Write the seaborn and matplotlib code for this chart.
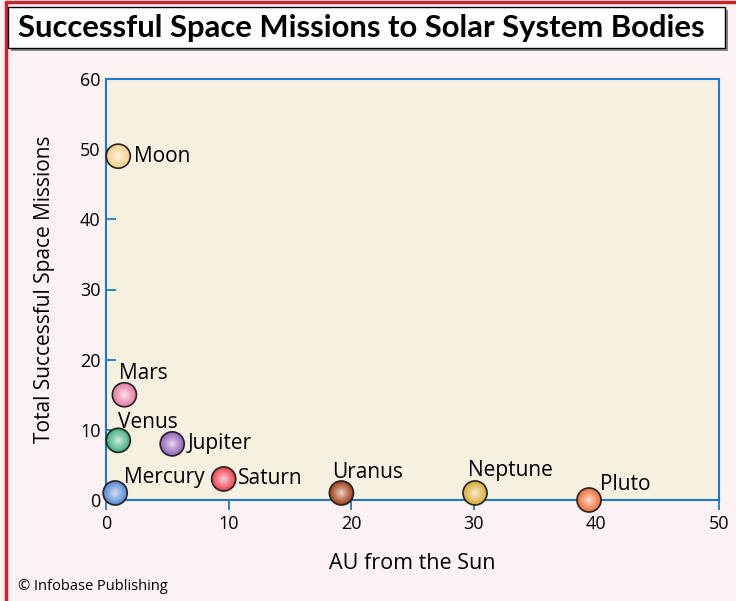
import matplotlib
matplotlib.use("Agg")
import matplotlib.pyplot as plt
from matplotlib.patches import Rectangle
from matplotlib.lines import Line2D
import matplotlib.colors as mcolors
import numpy as np
import pandas as pd
import seaborn as sns

# Solar system bodies: distance from the Sun (AU) and successful missions
bodies = ["Moon", "Mars", "Venus", "Jupiter", "Mercury", "Saturn", "Uranus", "Neptune", "Pluto"]
au_from_sun = [1.0, 1.5, 1.0, 5.4, 0.75, 9.6, 19.2, 30.1, 39.4]
missions = [49, 15, 8.5, 8, 1, 3, 1, 1, 0]
colors = ["#f8cf8c", "#e87fa6", "#45b183", "#9466bc", "#5a8ad4",
          "#ee4655", "#a3441a", "#d8b03a", "#f2733c"]
# label offsets (points) for each body
label_dx = [11, -4, 0, 11, 6, 10, -7, -5, 8]
label_dy = [0, 15.5, 13, 0, 11, 0, 15, 16, 11]

x_ticks = [0, 10, 20, 30, 40, 50]
y_ticks = [0, 10, 20, 30, 40, 50, 60]

df = pd.DataFrame({"body": bodies, "au": au_from_sun, "missions": missions})

sns.set_theme(style="white")
plt.rcParams["font.family"] = ["Open Sans", "DejaVu Sans"]
plt.rcParams["text.color"] = "black"
plt.rcParams["axes.labelcolor"] = "black"
plt.rcParams["xtick.color"] = "black"
plt.rcParams["ytick.color"] = "black"

bg = "#fcf1f3"
blue = "#1f78c4"
fig = plt.figure(figsize=(7.36, 6.01), dpi=100, facecolor=bg)
ax = fig.add_axes([106 / 736, 1 - 500 / 601, 613 / 736, 421 / 601])
ax.set_facecolor("#f6f0e0")

# sphere markers: base disc plus progressively lighter inner layers
size = 300
sns.scatterplot(data=df, x="au", y="missions", hue="body", palette=colors,
                s=size, edgecolor="#222222", linewidth=1.2, legend=False,
                ax=ax, zorder=3, clip_on=False)
layers = [(0.75, 0.10), (0.55, 0.20), (0.38, 0.30), (0.22, 0.42), (0.10, 0.55), (0.03, 0.68)]
for frac, blend in layers:
    lighter = [mcolors.to_hex(np.array(mcolors.to_rgb(c)) * (1 - blend) + blend) for c in colors]
    ax.scatter(df["au"], df["missions"], s=size * frac, c=lighter,
               edgecolors="none", zorder=4, clip_on=False)

for name, x, y, dx, dy in zip(bodies, au_from_sun, missions, label_dx, label_dy):
    ax.annotate(name, (x, y), xytext=(dx, dy), textcoords="offset points",
                ha="left", va="center", fontsize=15, color="black", zorder=5)

ax.set_xlim(0, 50)
ax.set_ylim(0, 60)
ax.set_xticks(x_ticks)
ax.set_yticks(y_ticks)
ax.tick_params(axis="x", direction="out", length=7, width=1.3, color=blue,
               labelsize=13, pad=4, bottom=True)
ax.tick_params(axis="y", direction="in", length=7, width=1.3, color=blue,
               labelsize=13, pad=4, left=True)
for sp in ax.spines.values():
    sp.set_visible(True)
    sp.set_color(blue)
    sp.set_linewidth(1.5)

ax.set_xlabel("AU from the Sun", fontsize=15.5, labelpad=14)
ax.set_ylabel("Total Successful Space Missions", fontsize=15, labelpad=18)

# page frame: red rules on the top and left edges
fig.add_artist(Line2D([6 / 736, 1], [1 - 2 / 601, 1 - 2 / 601], transform=fig.transFigure,
                      color="#c8242c", linewidth=2.5))
fig.add_artist(Line2D([6 / 736, 6 / 736], [0, 1 - 2 / 601], transform=fig.transFigure,
                      color="#c8242c", linewidth=2.5))

# title box with drop shadow
fig.add_artist(Rectangle((11 / 736, 1 - 51 / 601), 717 / 736, 41 / 601,
                         transform=fig.transFigure, facecolor="#888888",
                         edgecolor="none", zorder=1))
fig.add_artist(Rectangle((8 / 736, 1 - 48 / 601), 717 / 736, 41 / 601,
                         transform=fig.transFigure, facecolor="white",
                         edgecolor="black", linewidth=1.0, zorder=2))
fig.text(18 / 736, 1 - 28 / 601, "Successful Space Missions to Solar System Bodies",
         ha="left", va="center", fontsize=22.3, fontweight="bold",
         family=["Lato", "DejaVu Sans"], zorder=3)

fig.text(18 / 736, 1 - 586 / 601, "© Infobase Publishing", ha="left", va="center",
         fontsize=10.5)

fig.savefig("out.png", dpi=100, facecolor=bg)
